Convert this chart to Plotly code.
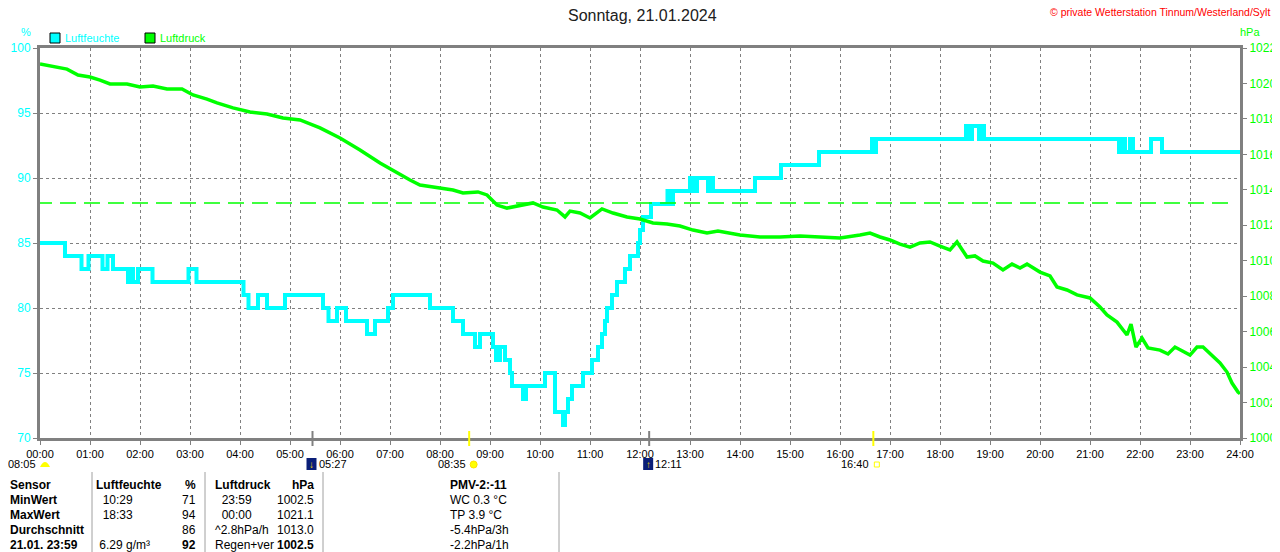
import plotly.graph_objects as go

# Luftfeuchte (%) - change points, hours since midnight
hum_hours = [0.00, 0.50, 0.83, 0.97, 1.25, 1.35, 1.46, 1.76, 1.82, 1.86, 1.96, 2.25, 2.97, 3.13,
             4.07, 4.17, 4.36, 4.54, 4.90, 5.66, 5.77, 5.94, 6.12, 6.54, 6.70, 6.96, 7.06, 7.80,
             8.26, 8.46, 8.70, 8.80, 9.06, 9.12, 9.20, 9.30, 9.40, 9.44, 9.66, 9.72, 10.10, 10.30,
             10.46, 10.50, 10.56, 10.64, 10.86, 11.04, 11.16, 11.24, 11.30, 11.34, 11.44, 11.54,
             11.70, 11.80, 11.96, 12.00, 12.06, 12.22, 12.55, 12.60, 12.66, 13.00, 13.06, 13.14,
             13.36, 13.40, 13.46, 14.30, 14.82, 15.58, 16.64, 16.68, 16.72, 18.52, 18.58, 18.64,
             18.78, 18.82, 18.88, 21.58, 21.66, 21.70, 21.80, 21.86, 22.22, 22.44, 24.00]
hum_vals = [85, 84, 83, 84, 83, 84, 83, 82, 83, 82, 83, 82, 83, 82,
            81, 80, 81, 80, 81, 80, 79, 80, 79, 78, 79, 80, 81, 80,
            79, 78, 77, 78, 77, 76, 77, 76, 75, 74, 73, 74, 75, 72,
            71, 72, 73, 74, 75, 76, 77, 78, 79, 80, 81, 82,
            83, 84, 85, 86, 87, 88, 89, 88, 89, 90, 89, 90,
            89, 90, 89, 90, 91, 92, 93, 92, 93, 94, 93, 94,
            93, 94, 93, 92, 93, 92, 93, 92, 93, 92, 92]

# Luftdruck (hPa)
p_hours = [0.00, 0.40, 0.54, 0.76, 1.00, 1.20, 1.40, 1.74, 2.00, 2.26, 2.54, 2.84, 3.06, 3.34,
           3.54, 3.86, 4.20, 4.54, 4.86, 5.20, 5.60, 6.00, 6.40, 6.80, 7.10, 7.40, 7.60, 8.00,
           8.26, 8.46, 8.76, 8.94, 9.14, 9.34, 9.60, 9.86, 10.06, 10.34, 10.50, 10.60, 10.80,
           11.00, 11.24, 11.46, 11.74, 12.00, 12.26, 12.54, 12.80, 13.06, 13.34, 13.56, 14.00,
           14.40, 14.80, 15.20, 15.60, 16.00, 16.40, 16.60, 16.80, 17.00, 17.20, 17.40, 17.60,
           17.80, 18.00, 18.20, 18.34, 18.54, 18.70, 18.86, 19.06, 19.26, 19.44, 19.60, 19.74,
           20.00, 20.20, 20.34, 20.54, 20.74, 21.00, 21.20, 21.34, 21.54, 21.74, 21.82, 21.92,
           22.04, 22.16, 22.40, 22.56, 22.70, 23.00, 23.14, 23.26, 23.46, 23.60, 23.74, 23.84,
           23.96, 24.00]
p_vals = [1021.1, 1020.87, 1020.81, 1020.48, 1020.36, 1020.19, 1019.97, 1019.97, 1019.80, 1019.86,
          1019.69, 1019.69, 1019.35, 1019.12, 1018.90, 1018.62, 1018.39, 1018.28, 1018.05, 1017.94,
          1017.49, 1016.92, 1016.25, 1015.51, 1015.01, 1014.55, 1014.27, 1014.10, 1013.99, 1013.82,
          1013.88, 1013.71, 1013.14, 1012.97, 1013.09, 1013.26, 1013.03, 1012.86, 1012.47, 1012.80,
          1012.69, 1012.41, 1012.92, 1012.69, 1012.47, 1012.35, 1012.13, 1012.07, 1011.96, 1011.73,
          1011.56, 1011.68, 1011.45, 1011.34, 1011.34, 1011.39, 1011.34, 1011.28, 1011.45, 1011.56,
          1011.34, 1011.17, 1010.94, 1010.77, 1011.00, 1011.06, 1010.83, 1010.61, 1011.06, 1010.21,
          1010.27, 1009.98, 1009.87, 1009.48, 1009.81, 1009.59, 1009.81, 1009.36, 1009.14, 1008.52,
          1008.35, 1008.07, 1007.90, 1007.39, 1006.94, 1006.54, 1005.81, 1006.43, 1005.13, 1005.64,
          1005.08, 1004.96, 1004.74, 1005.13, 1004.68, 1005.13, 1005.13, 1004.57, 1004.23, 1003.72,
          1003.10, 1002.59, 1002.5]

p_reference = 1013.25

hour_labels = ["%02d:00" % h for h in range(25)]
hum_ticks = [70, 75, 80, 85, 90, 95, 100]
p_ticks = list(range(1000, 1023, 2))

# moon rise/set, sunrise/sunset
moon_times = ["05:27", "12:11"]
sun_times = ["08:35", "16:40"]
day_length = "08:05"

table_rows = [
    ["Sensor", "Luftfeuchte", "%", "Luftdruck", "hPa", "PMV-2:-11"],
    ["MinWert", "  10:29", "71", "  23:59", "1002.5", "WC 0.3 °C"],
    ["MaxWert", "  18:33", "94", "  00:00", "1021.1", "TP 3.9 °C"],
    ["Durchschnitt", "", "86", "^2.8hPa/h", "1013.0", "-5.4hPa/3h"],
    ["21.01. 23:59", " 6.29 g/m³", "92", "Regen+ver", "1002.5", "-2.2hPa/1h"],
]

CYAN = "#00FFFF"
GREEN = "#00FF00"
GRAY = "#808080"
FONT = "Liberation Sans"

# the page body has an 8px margin, figure is shrunk to compensate
BODY = 8


def to_h(s):
    hh, mm = s.split(":")
    return int(hh) + int(mm) / 60


def px(x):
    return (x - 40) / 1200


def py(y):
    return (438 - y) / 390


def label(x, y, text, size=12, color="black", anchor="left"):
    return dict(x=px(x), y=py(y), xref="paper", yref="paper", text=text, showarrow=False,
                xanchor=anchor, yanchor="middle", font=dict(family=FONT, size=size, color=color))


fig = go.Figure()
fig.add_trace(go.Scatter(x=p_hours, y=p_vals, mode="lines", yaxis="y2",
                         line=dict(color=GREEN, width=3.5), hoverinfo="skip"))
fig.add_trace(go.Scatter(x=hum_hours, y=hum_vals, mode="lines",
                         line=dict(color=CYAN, width=4, shape="hv"), hoverinfo="skip"))

shapes = []
annotations = []

# reference pressure
shapes.append(dict(type="line", xref="x", yref="y2", x0=-0.08, x1=23.8, y0=p_reference, y1=p_reference,
                   line=dict(color=GREEN, width=1.5, dash="16px,8px")))
# event ticks on time axis
for t in moon_times:
    shapes.append(dict(type="line", xref="x", yref="paper", x0=to_h(t), x1=to_h(t),
                       y0=py(431), y1=py(446), line=dict(color=GRAY, width=2)))
for t in sun_times:
    shapes.append(dict(type="line", xref="x", yref="paper", x0=to_h(t), x1=to_h(t),
                       y0=py(431), y1=py(446), line=dict(color="#FFFF00", width=2)))

# moon icons
for t, arrow in zip(moon_times, ["↓", "↑"]):
    x = 40 + to_h(t) * 50
    shapes.append(dict(type="rect", xref="paper", yref="paper", x0=px(x - 6), x1=px(x + 4),
                       y0=py(470), y1=py(458), fillcolor="#0A1E78", line=dict(width=0)))
    annotations.append(label(x - 1, 464, "<b>%s</b>" % arrow, 10, "#FFD800", "center"))
    annotations.append(label(x + 4, 464, t, 11))
# sunrise
x_sr = 40 + to_h(sun_times[0]) * 50
annotations.append(label(x_sr - 1, 464, sun_times[0], 11, anchor="right"))
shapes.append(dict(type="circle", xref="paper", yref="paper", x0=px(x_sr + 1), x1=px(x_sr + 8),
                   y0=py(468), y1=py(461), fillcolor="#FFFF00", line=dict(color="#FFE000", width=1)))
# sunset
x_ss = 40 + to_h(sun_times[1]) * 50
annotations.append(label(x_ss - 2, 464, sun_times[1], 11, anchor="right"))
shapes.append(dict(type="rect", xref="paper", yref="paper", x0=px(x_ss + 1), x1=px(x_ss + 6),
                   y0=py(467), y1=py(462), line=dict(color="#FFFF00", width=1)))
# day length
annotations.append(label(38, 464, day_length, 11, anchor="right"))
shapes.append(dict(type="path", xref="paper", yref="paper",
                   path="M %f %f Q %f %f %f %f Z" % (px(40), py(467), px(45), py(457), px(50), py(467)),
                   fillcolor="#FFFF00", line=dict(width=0)))

# title, credit, units, legend
annotations += [
    label(643, 15, "Sonntag, 21.01.2024", 16, "#202020", "center"),
    label(1272, 12, "© private Wetterstation Tinnum/Westerland/Sylt", 10.5, "#FF0000", "right"),
    label(26, 32, "%", 11, CYAN, "center"),
    label(1250, 32, "hPa", 11, GREEN, "center"),
    label(63, 38, "Luftfeuchte", 11, CYAN),
    label(158, 38, "Luftdruck", 11, GREEN),
]
for x0, col in [(50, CYAN), (145, GREEN)]:
    shapes.append(dict(type="rect", xref="paper", yref="paper", x0=px(x0), x1=px(x0 + 10),
                       y0=py(43), y1=py(33), fillcolor=col, line=dict(color="black", width=1)))

# table below chart
col_x = [8, 94, 198, 213, 316, 448]
col_anchor = ["left", "left", "right", "left", "right", "left"]
row_y = [485, 500, 515, 530, 545]
for r, row in enumerate(table_rows):
    for c, txt in enumerate(row):
        if not txt:
            continue
        bold = r == 0 or c == 0 or (r == 4 and c in (2, 4))
        annotations.append(label(col_x[c], row_y[r], "<b>%s</b>" % txt if bold else txt,
                                 12, anchor=col_anchor[c]))
for x in [92, 205, 323, 559, 1279]:
    shapes.append(dict(type="line", xref="paper", yref="paper", x0=px(x), x1=px(x),
                       y0=py(472), y1=py(556), line=dict(color="#A0A0A0", width=1)))

grid = dict(showgrid=True, gridcolor=GRAY, gridwidth=1, griddash="3px,3px", zeroline=False)
axis_common = dict(ticks="outside", ticklen=4, tickcolor=GRAY, tickwidth=1, automargin=False,
                   showline=True, linecolor=GRAY, linewidth=3)
fig.update_layout(
    width=1280 - BODY, height=552 - BODY,
    margin=dict(l=40 - BODY, r=40, t=48 - BODY, b=114, pad=0, autoexpand=False),
    paper_bgcolor="white", plot_bgcolor="white",
    showlegend=False,
    font=dict(family=FONT, size=11),
    xaxis=dict(range=[0, 24], tickvals=list(range(25)), ticktext=hour_labels,
               tickfont=dict(family=FONT, size=11, color="black"), mirror=True,
               **axis_common, **grid),
    yaxis=dict(range=[70, 100], tickvals=hum_ticks, tickfont=dict(family=FONT, size=12, color=CYAN),
               **axis_common, **grid),
    yaxis2=dict(range=[1000, 1022], tickvals=p_ticks, overlaying="y", side="right",
                tickfont=dict(family=FONT, size=12, color=GREEN),
                showgrid=False, zeroline=False, **axis_common),
    shapes=shapes,
    annotations=annotations,
)

fig.write_html("out.html")
